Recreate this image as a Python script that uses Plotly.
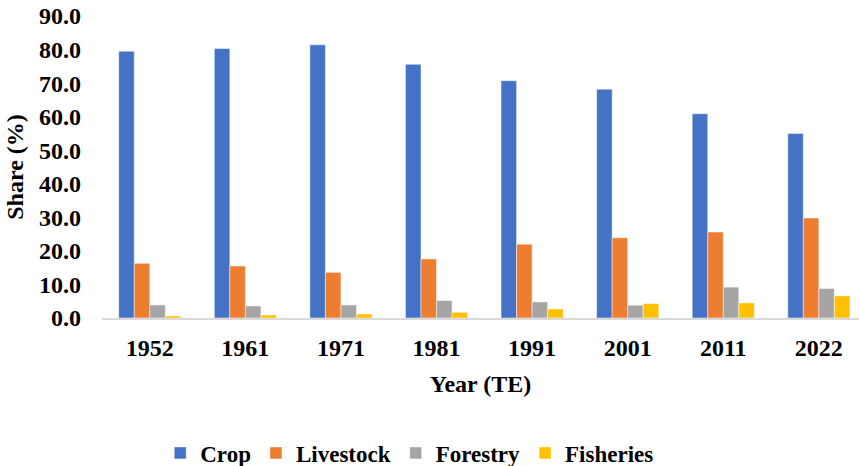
import plotly.graph_objects as go

years = ["1952", "1961", "1971", "1981", "1991", "2001", "2011", "2022"]
crop = [79.5, 80.3, 81.4, 75.6, 70.7, 68.2, 60.9, 55.0]
livestock = [16.3, 15.5, 13.6, 17.6, 22.0, 23.9, 25.6, 29.8]
forestry = [3.9, 3.6, 3.9, 5.2, 4.8, 3.8, 9.2, 8.8]
fisheries = [0.6, 0.9, 1.2, 1.7, 2.7, 4.3, 4.5, 6.6]

series = [
    ("Crop", crop, "#4472C4"),
    ("Livestock", livestock, "#ED7D31"),
    ("Forestry", forestry, "#A5A5A5"),
    ("Fisheries", fisheries, "#FFC000"),
]

FONT = "Liberation Serif"

fig = go.Figure()
for name, vals, col in series:
    fig.add_trace(go.Bar(
        x=years, y=vals, name=name,
        marker=dict(color=col, line=dict(color="rgba(255,255,255,0.6)", width=0.8)),
    ))

fig.update_layout(
    width=859, height=466,
    margin=dict(l=102, r=0, t=16, b=148, autoexpand=False),
    paper_bgcolor="white", plot_bgcolor="white",
    barmode="group", bargap=0.35, bargroupgap=0,
    font=dict(family=FONT, color="black"),
    showlegend=True,
    legend=dict(
        orientation="h", xref="container", yref="container",
        x=0.477, xanchor="center", y=0.028, yanchor="middle",
        font=dict(family=FONT, size=23, color="black", weight="bold"),
        itemclick=False,
    ),
    xaxis=dict(
        type="category", range=[-0.5, 7.42], automargin=False,
        showline=True, linecolor="#D9D9D9", linewidth=1.5,
        showgrid=False, ticks="", ticklabelstandoff=7,
        tickfont=dict(family=FONT, size=24, color="black", weight="bold"),
        title=dict(text="Year (TE)", standoff=16,
                   font=dict(family=FONT, size=24, color="black", weight="bold")),
    ),
    yaxis=dict(
        range=[0, 90], dtick=10, tickformat=".1f", automargin=False,
        showline=False, showgrid=False, zeroline=False,
        ticks="", ticklabelstandoff=20,
        tickfont=dict(family=FONT, size=24, color="black", weight="bold"),
        title=dict(text="Share (%)", standoff=8,
                   font=dict(family=FONT, size=24, color="black", weight="bold")),
    ),
)

fig.write_html(
    "out.html",
    config={"displayModeBar": False},
    post_script="document.body.style.margin='0';document.body.style.overflow='hidden';",
)
